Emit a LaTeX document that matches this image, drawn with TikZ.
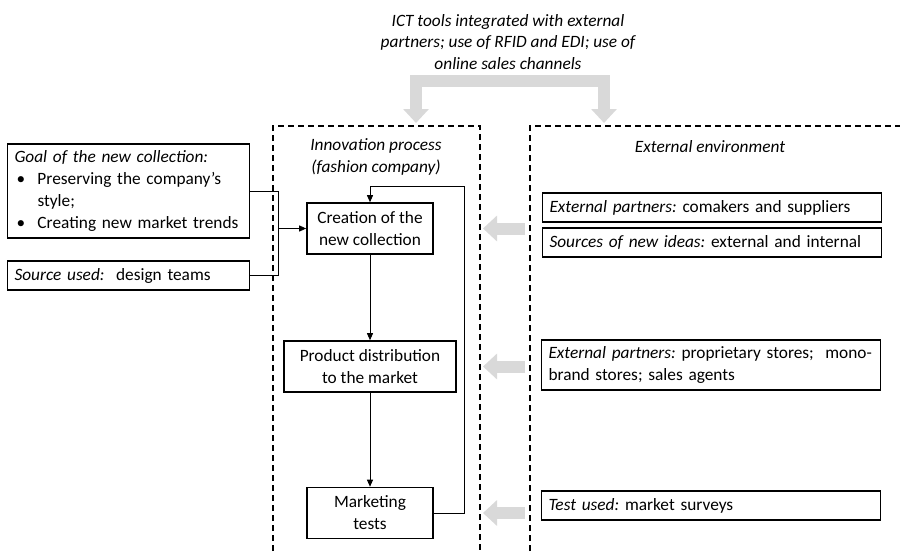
\documentclass[tikz,border=0pt]{standalone}
\usepackage{fontspec}
\setmainfont{Carlito}
\usetikzlibrary{arrows.meta, positioning}
\definecolor{lightgrey}{HTML}{D9D9D9}

\begin{document}
\begin{tikzpicture}[
    x=1pt, y=-1pt,
    font=\fontsize{17.3}{22}\selectfont\frenchspacing,
    flowbox/.style={rectangle, draw=black, line width=1.6pt, align=center, inner sep=2pt, minimum height=51pt},
    notebox/.style={rectangle, draw=black, line width=1.2pt, align=left, text width=#1, inner xsep=7pt, inner ysep=3pt, minimum height=29pt},
    frame/.style={draw=black, line width=1.1pt, dash pattern=on 6pt off 4pt},
    arrow/.style={-{Triangle[width=6pt,length=7pt]}, line width=0.9pt},
    grayarrow/.style={draw=lightgrey, line width=12pt, -{Triangle[width=25pt,length=14pt]}},
    bigarrow/.style={draw=lightgrey, line width=12pt, line join=miter, {Triangle[width=25pt,length=14pt]}-{Triangle[width=25pt,length=14pt]}}
]
\useasboundingbox (0,0) rectangle (901,551);

% Frames
\draw[frame] (273,551) -- (273,126) -- (480,126) -- (480,551);
\draw[frame] (530,551) -- (530,126) -- (900,126);

% Headers
\node[font=\fontsize{17.3}{21.5}\itshape, align=center] (ict) at (508,42) {ICT tools integrated with external\\partners; use of RFID and EDI; use of\\online sales channels};
\node[font=\fontsize{17.3}{21.5}\itshape, align=center] (inno) at (376,157) {Innovation process\\(fashion company)};
\node[font=\fontsize{17.3}{21.5}\itshape] (extenv) at (710,147) {External environment};

% Process
\node[flowbox, minimum width=126pt] (creation) at (370,228.5) {Creation of the\\new collection};
\node[flowbox, minimum width=172pt] (distrib) at (370,366.5) {Product distribution\\to the market};
\node[flowbox, minimum width=126pt] (marketing) at (370,513) {Marketing\\tests};

% Inputs on the left
\node[notebox=228pt, minimum height=94pt] (goal) at (128.5,191) {{\itshape Goal of the new collection:}\\
\hspace*{2pt}\makebox[21pt][l]{\textbullet}Preserving the company's\\
\hspace*{23pt}style;\\
\hspace*{2pt}\makebox[21pt][l]{\textbullet}Creating new market trends};
\node[notebox=228pt] (source) at (128.5,275.5) {{\itshape Source used:}\ \ design teams};

% External environment
\node[notebox=325pt] (partners) at (712,207.5) {{\itshape External partners:} comakers and suppliers};
\node[notebox=325pt] (ideas) at (712,242.5) {{\itshape Sources of new ideas:} external and internal};
\node[notebox=325pt, minimum height=50pt] (stores) at (711,365) {\mbox{{\itshape External partners:} proprietary stores;\ \ mono-}\\brand stores; sales agents};
\node[notebox=325pt] (tests) at (711,505.5) {{\itshape Test used:} market surveys};

% Helper coordinates
\coordinate (merge) at (278,0);
\coordinate (loop) at (464,186);
\coordinate (extin) at (525,0);
\coordinate (intout) at (483,0);
\coordinate (topL) at (416,123);
\coordinate (topR) at (604,123);

% Connectors
\draw[line width=0.9pt] (goal.east) -| (merge |- source.east) -- (source.east);
\draw[arrow] (merge |- creation.west) -- (creation.west);
\draw[arrow] (creation) -- (distrib);
\draw[arrow] (distrib) -- (marketing);
\draw[arrow] (marketing.east) -| (loop) -| (creation.north);

% Gray arrows
\draw[bigarrow] (topL) -- ++(0,-42) -| (topR);
\draw[grayarrow] (creation.east -| extin) -- (creation.east -| intout);
\draw[grayarrow] (distrib.east -| extin) -- (distrib.east -| intout);
\draw[grayarrow] (marketing.east -| extin) -- (marketing.east -| intout);

\end{tikzpicture}
\end{document}
